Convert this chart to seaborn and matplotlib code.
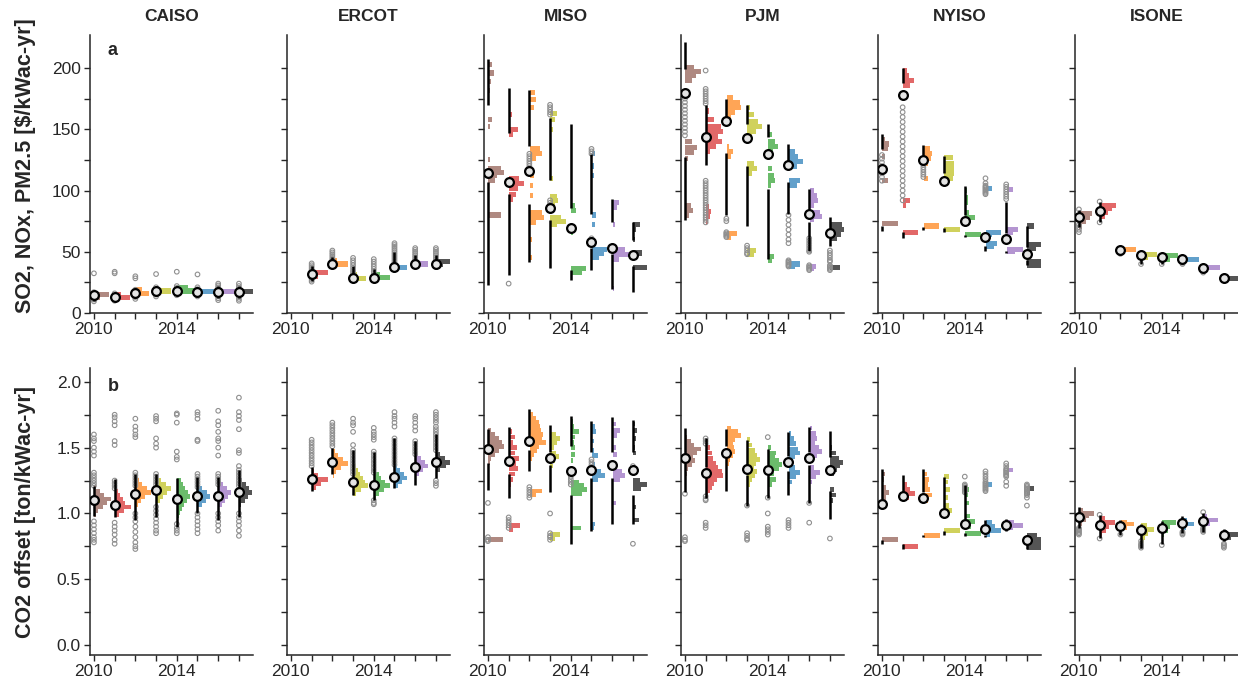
import matplotlib
matplotlib.use("Agg")
import matplotlib.pyplot as plt
import pandas as pd
import seaborn as sns

years = [2010, 2011, 2012, 2013, 2014, 2015, 2016, 2017]
regions = ["CAISO", "ERCOT", "MISO", "PJM", "NYISO", "ISONE"]
year_colors = ["#af8981", "#e26868", "#ffa556", "#d0d15c", "#6bbc6b", "#62a0cb", "#b495d1", "#555555"]

# ---- panel a: SO2, NOx, PM2.5 [$/kWac-yr] ----
# med, (lo, q1, q3, hi), gray points, histogram (value, width in years)
caiso_a_med = [14.7, 12.8, 16.0, 17.9, 18.2, 17.4, 17.4, 16.9]
caiso_a_box = [(10, 14, 15.5, 18), (10, 12, 13.5, 16), (12, 15, 17, 20), (14, 17, 19, 21),
               (15, 17, 19.5, 22), (14, 17, 18, 21), (12, 16, 18.5, 22), (12, 16, 18.5, 22)]
caiso_a_pts = [[32.4, 17, 15.5, 14, 12.5, 11, 9.5], [33.7, 32.4, 16, 14.5, 13, 11.5, 10],
               [30, 28.3, 19, 17.5, 16, 14.5, 13, 11.5], [31.8, 21, 19.5, 18, 16.5, 15, 13.5],
               [33.7, 22, 20.5, 19, 17.5, 16, 14.5], [31.5, 21, 19.5, 18, 16.5, 15, 13.5],
               [24, 22.5, 21, 19.5, 18, 16.5, 15, 13.5, 12, 10.5],
               [24, 22, 20.5, 19, 17.5, 16, 14.5, 13, 11.5, 10]]
caiso_a_hist = [[(15, .7), (12.5, .25)], [(12.5, .7), (15, .3)], [(16, .65), (19, .3)], [(18, .7)],
                [(18, .8), (21, .5)], [(17.5, .8)], [(17.5, .8)], [(17.5, .8)]]

ercot_a_med = [None, 32, 40, 28.6, 28.6, 37.8, 40, 40]
ercot_a_box = [None, (26, 31, 33, 38), (38, 39.5, 41, 46), (27, 28, 30, 38), (26, 28, 30, 36),
               (36, 37, 39, 50), (38, 39.5, 41, 47), (37, 39, 41, 47)]
ercot_a_pts = [[], [40.5, 39, 37.5, 36, 34.5, 33, 31.5, 30, 28.5, 27, 25.6],
               [51, 49.5, 48, 46.5, 45, 43.5, 42, 40.5], [45, 43, 41, 39, 37, 35, 33.5, 32, 31],
               [44, 42, 40, 38, 36, 34, 32, 30.5, 28],
               [57, 55.5, 54, 52.5, 51, 49.5, 48, 46.5, 45, 43.5, 42, 40.5, 39],
               [53, 51.5, 50, 48.5, 47, 45.5, 44, 42.5],
               [53, 51.5, 50, 48.5, 47, 45.5, 44, 42.5, 37.5]]
ercot_a_hist = [[], [(33, .75), (30, .3)], [(40, .75), (43, .2)], [(28.5, .6), (31, .15)],
                [(29, .75), (31.5, .3)], [(37.5, .6)], [(40, .6)], [(42, .8), (40, .3)]]

miso_a_med = [114.4, 106.6, 116, 86, 69, 57.7, 52.8, 47.4]
miso_a_box = [(23, 107, 170, 207), (31, 97, 147, 184), (42, 89, 136, 182), (37, 76, 109, 159),
              (27, 35, 86, 154), (35, 53, 81, 130), (20, 48, 74, 93), (17, 38, 60, 74)]
miso_a_pts = [[], [24], [130, 128, 126, 124, 122, 120, 118], [170, 168, 166, 164, 162, 92, 90, 88],
              [], [134, 132, 130, 61, 59, 57], [], []]
miso_a_hist = [[(203, .2), (196, .25), (189, .15), (182, .1), (158, .2), (152, .1), (125, .1), (118, .6),
                (115, .75), (112, .4), (108, .3), (80, .6), (60, .05), (40, .05)],
               [(162, .15), (150, .45), (146, .2), (110, .5), (106, .7), (102, .45), (97, .35), (93, .2)],
               [(180, .25), (174, .3), (168, .2), (134, .5), (130, .6), (126, .3), (112, .2), (104, .15),
                (96, .15), (82, .6), (78, .7), (74, .3), (60, .1), (45, .1)],
               [(163, .3), (158, .2), (150, .1), (110, .1), (95, .3), (92, .35), (88, .2), (78, .5),
                (75, .75), (72, .3)],
               [(148, .05), (100, .05), (88, .2), (84, .25), (70, .25), (66, .1), (36, .7), (33, .5)],
               [(130, .15), (120, .1), (112, .1), (80, .2), (72, .15), (60, .1), (52, .75), (49, .6), (45, .35)],
               [(90, .3), (86, .2), (72, .1), (52, .6), (48, .8), (44, .3), (20, .05)],
               [(72, .3), (68, .15), (60, .1), (49, .4), (37, .75)]]

pjm_a_med = [180, 144, 156.4, 143, 130, 120.8, 81, 65.6]
pjm_a_box = [(76, 127, 199, 221.5), (121, 144, 144, 170), (80, 131, 159, 175), (71, 120, 154, 170),
             (44, 101, 144, 154), (81, 107, 124, 138), (51, 74, 85, 101), (55, 61, 69, 78)]
pjm_a_pts = [[178, 175, 172, 169, 166, 163, 160, 157, 154, 151, 148, 145],
             [198, 183, 181, 179, 177, 175, 173, 171, 108, 106, 104, 102, 100, 98, 96, 94, 92, 90,
              88, 86, 84, 82, 80, 78, 76, 74],
             [77, 75, 66, 65, 64, 63, 62], [55, 53, 51, 49, 48], [],
             [80, 76, 72, 68, 64, 60, 57, 43, 42, 41, 40, 39, 38],
             [61, 59, 57, 55, 53, 51, 50, 39, 38, 37, 36, 35],
             [51, 49, 47, 45, 43, 42, 39, 38, 37, 36, 35]]
pjm_a_hist = [[(210, .05), (200, .4), (197, .75), (194, .5), (190, .3), (140, .3), (135, .55), (131, .4),
               (126, .15), (88, .25), (84, .35), (80, .2)],
              [(165, .15), (158, .4), (152, .7), (148, .8), (144, .6), (140, .75), (136, .5), (132, .2),
               (87, .15), (83, .25), (79, .2), (75, .1)],
              [(176, .3), (172, .65), (168, .7), (164, .4), (160, .2), (136, .1), (132, .3), (128, .2),
               (65, .5), (62, .2)],
              [(168, .1), (162, .3), (156, .5), (152, .7), (148, .4), (144, .2), (122, .3), (118, .45),
               (114, .2), (51, .4), (48, .3)],
              [(146, .2), (140, .35), (136, .45), (132, .25), (118, .2), (112, .3), (108, .35), (104, .15),
               (46, .3), (43, .2)],
              [(132, .3), (128, .45), (124, .7), (120, .4), (108, .55), (104, .4), (40, .55), (38, .3)],
              [(100, .2), (96, .35), (92, .4), (88, .2), (82, .5), (79, .6), (76, .2), (38, .3), (36, .2)],
              [(72, .55), (68, .7), (64, .5), (61, .3), (37, .45)]]

nyiso_a_med = [117.2, 178, 124.9, 108, 75.3, 62.3, 60.4, 48]
nyiso_a_box = [(67, 71, 134, 146), (61, 66, 188, 200), (68, 70, 129, 137), (66, 69, 114, 128),
               (62, 64, 80, 104), (51, 55, 62, 62), (49, 51, 65, 91), (39, 43, 54, 71)]
nyiso_a_pts = [[129, 126, 123, 120, 117, 114, 111, 108],
               [168, 164, 160, 156, 152, 148, 144, 140, 136, 132, 128, 124, 120, 116, 112, 108, 104,
                100, 96, 92],
               [121, 119, 117, 115, 113, 111], [], [],
               [110, 106, 104, 103, 102, 101, 100, 99, 98, 97],
               [105, 103, 101, 99, 97, 95, 93], []]
nyiso_a_hist = [[(142, .15), (138, .3), (134, .25), (128, .15), (108, .25), (73, .75)],
                [(198, .2), (194, .3), (190, .55), (186, .35), (92, .35), (88, .15), (66, .7)],
                [(134, .3), (130, .4), (126, .35), (122, .2), (110, .2), (71, .75)],
                [(127, .4), (122, .45), (118, .45), (114, .45), (110, .4), (68, .75)],
                [(100, .1), (94, .15), (90, .15), (82, .2), (78, .45), (64, .75)],
                [(102, .3), (66, .75), (64, .3), (57, .55), (54, .4)],
                [(101, .3), (68, .55), (66, .3), (52, .8), (50, .4)],
                [(71, .3), (56, .7), (53, .4), (42, .8), (39, .75)]]

isone_a_med = [78.1, 83.5, 51.4, 47.3, 46, 44, 37, 28.3]
isone_a_box = [(70, 76, 80, 84), (74, 80, 86, 91), (48.5, 50, 52, 53), (40, 44, 48, 49.6),
               (40, 44, 47, 49), (41, 43, 45, 46), (34, 36, 38, 39), (27, 28, 29, 30)]
isone_a_pts = [[84.6, 72, 70, 68, 66], [91, 74], [48.3], [40], [40], [42, 41, 40], [33], []]
isone_a_hist = [[(81, .6), (78, .5), (75, .3), (71, .15)], [(88, .75), (85, .6), (82, .4), (79, .25)],
                [(52, .75), (50, .2)], [(48, .75), (45, .3)], [(47, .75), (44, .4)], [(44, .8)],
                [(37, .8)], [(28, .8)]]

# ---- panel b: CO2 offset [ton/kWac-yr] ----
caiso_b_med = [1.10, 1.065, 1.15, 1.18, 1.11, 1.13, 1.13, 1.165]
caiso_b_box = [(0.98, 1.10, 1.10, 1.21), (0.97, 1.065, 1.065, 1.26), (0.95, 1.15, 1.15, 1.30),
               (0.97, 1.18, 1.18, 1.30), (0.90, 1.11, 1.11, 1.27), (1.0, 1.13, 1.13, 1.28),
               (0.95, 1.13, 1.13, 1.28), (0.97, 1.165, 1.165, 1.33)]
caiso_b_pts = [[1.60, 1.57, 1.55, 1.50, 1.47, 1.44, 1.31, 1.29, 1.27, 1.25, 1.23, 1.21, 0.94, 0.91, 0.88,
                0.85, 0.82, 0.80, 0.78],
               [1.75, 1.73, 1.70, 1.67, 1.55, 1.52, 1.25, 1.23, 1.21, 1.19, 0.93, 0.90, 0.87, 0.84, 0.80, 0.77],
               [1.72, 1.66, 1.63, 1.60, 1.58, 1.31, 1.29, 1.27, 1.25, 1.23, 1.21, 1.0, 0.97, 0.94, 0.9, 0.86,
                0.82, 0.78, 0.75, 0.73],
               [1.74, 1.72, 1.70, 1.57, 1.53, 1.50, 1.30, 1.28, 1.26, 1.24, 1.22, 1.05, 1.02, 0.99, 0.96,
                0.93, 0.90, 0.87, 0.85],
               [1.76, 1.75, 1.69, 1.47, 1.43, 1.41, 0.92, 0.89, 0.87, 0.85],
               [1.77, 1.75, 1.72, 1.56, 1.55, 1.30, 1.28, 1.26, 1.24, 1.22, 1.20, 1.0, 0.97, 0.94, 0.91,
                0.88, 0.85],
               [1.78, 1.70, 1.67, 1.62, 1.57, 1.55, 1.50, 1.44, 1.30, 1.28, 1.26, 1.24, 1.22, 1.0, 0.97,
                0.94, 0.91, 0.87],
               [1.88, 1.77, 1.74, 1.71, 1.64, 1.48, 1.46, 1.36, 1.33, 1.31, 1.29, 1.27, 1.25, 1.23, 1.21,
                1.0, 0.97, 0.94, 0.91, 0.87, 0.83]]
caiso_b_hist = [[(1.20, .1), (1.17, .25), (1.14, .45), (1.11, .8), (1.08, .6), (1.05, .4), (1.02, .2), (0.99, .1)],
                [(1.17, .15), (1.14, .25), (1.11, .4), (1.08, .5), (1.05, .75), (1.02, .45), (0.99, .2)],
                [(1.25, .15), (1.22, .3), (1.19, .55), (1.16, .75), (1.13, .45), (1.10, .25), (1.07, .1)],
                [(1.25, .2), (1.22, .45), (1.19, .7), (1.16, .5), (1.13, .3), (1.10, .15)],
                [(1.25, .2), (1.22, .3), (1.19, .4), (1.16, .5), (1.13, .6), (1.10, .45), (1.07, .35),
                 (1.04, .25), (1.01, .15), (0.98, .1)],
                [(1.19, .2), (1.16, .45), (1.13, .6), (1.10, .4), (1.07, .2)],
                [(1.22, .2), (1.19, .4), (1.16, .6), (1.13, .45), (1.10, .3), (1.07, .15)],
                [(1.25, .15), (1.22, .3), (1.19, .45), (1.16, .6), (1.13, .4), (1.10, .25), (1.07, .1)]]

ercot_b_med = [None, 1.26, 1.39, 1.24, 1.215, 1.28, 1.35, 1.39]
ercot_b_box = [None, (1.17, 1.26, 1.26, 1.35), (1.30, 1.39, 1.39, 1.50), (1.14, 1.24, 1.24, 1.48),
               (1.10, 1.215, 1.215, 1.47), (1.19, 1.28, 1.28, 1.57), (1.22, 1.35, 1.35, 1.55),
               (1.27, 1.39, 1.39, 1.60)]
ercot_b_pts = [[], [1.56, 1.54, 1.52, 1.50, 1.48, 1.46, 1.44, 1.42, 1.40, 1.38, 1.36],
               [1.69, 1.67, 1.65, 1.63, 1.61, 1.59, 1.57, 1.55, 1.53, 1.51],
               [1.72, 1.69, 1.67, 1.62, 1.52, 1.48, 1.46, 1.44, 1.42, 1.40, 1.38, 1.36, 1.34, 1.32, 1.30],
               [1.65, 1.62, 1.60, 1.58, 1.56, 1.47, 1.45, 1.43, 1.41, 1.39, 1.37, 1.35, 1.33, 1.31, 1.10,
                1.08, 1.07],
               [1.77, 1.74, 1.72, 1.69, 1.66, 1.57, 1.55, 1.53, 1.51, 1.49, 1.47, 1.45, 1.43, 1.41, 1.39, 1.37],
               [1.74, 1.72, 1.69, 1.66, 1.63, 1.55, 1.53, 1.51, 1.49, 1.47, 1.45],
               [1.77, 1.75, 1.73, 1.71, 1.69, 1.66, 1.64, 1.62, 1.60, 1.58, 1.56, 1.54, 1.52, 1.50, 1.48,
                1.25, 1.23, 1.21]]
ercot_b_hist = [[], [(1.32, .1), (1.29, .3), (1.26, .75), (1.23, .45), (1.20, .2)],
                [(1.47, .1), (1.44, .25), (1.41, .5), (1.38, .75), (1.35, .4), (1.32, .15), (1.29, .05)],
                [(1.36, .1), (1.33, .2), (1.30, .3), (1.27, .45), (1.24, .55), (1.21, .7), (1.18, .35), (1.15, .1)],
                [(1.33, .1), (1.30, .25), (1.27, .35), (1.24, .5), (1.21, .75), (1.18, .45), (1.15, .25), (1.12, .1)],
                [(1.36, .1), (1.33, .25), (1.30, .45), (1.27, .6), (1.24, .35), (1.21, .15)],
                [(1.45, .1), (1.42, .25), (1.39, .45), (1.36, .6), (1.33, .35), (1.30, .15)],
                [(1.48, .1), (1.45, .2), (1.42, .4), (1.39, .75), (1.36, .45), (1.33, .2), (1.30, .05)]]

miso_b_med = [1.486, 1.397, 1.55, 1.42, 1.32, 1.33, 1.37, 1.33]
miso_b_box = [(1.18, 1.38, 1.51, 1.64), (1.12, 1.30, 1.44, 1.66), (1.32, 1.48, 1.57, 1.79),
              (1.16, 1.37, 1.47, 1.67), (0.77, 1.14, 1.51, 1.74), (0.87, 1.27, 1.47, 1.70),
              (0.92, 1.27, 1.47, 1.73), (0.92, 1.14, 1.47, 1.71)]
miso_b_pts = [[1.08, 0.82, 0.80, 0.79], [0.97, 0.95, 0.93, 0.91, 0.89], [1.20, 1.18, 1.16, 1.14, 1.12],
              [1.0, 0.85, 0.83, 0.82, 0.80], [1.30, 1.28, 1.26, 1.24, 1.22], [1.41, 1.39, 1.37, 1.35],
              [], [1.36, 1.34, 1.32, 0.77]]
miso_b_hist = [[(1.63, .15), (1.60, .3), (1.57, .5), (1.54, .65), (1.51, .75), (1.48, .5), (1.45, .3),
                (1.42, .15), (1.39, .1), (0.80, .7)],
               [(1.62, .15), (1.58, .3), (1.54, .2), (1.50, .4), (1.46, .3), (1.42, .5), (1.38, .35),
                (1.34, .45), (1.30, .3), (1.26, .2), (1.22, .1), (0.91, .55), (0.88, .2)],
               [(1.75, .15), (1.72, .3), (1.69, .45), (1.66, .5), (1.63, .55), (1.60, .65), (1.57, .6),
                (1.54, .8), (1.51, .45), (1.48, .35), (1.45, .2), (1.42, .1), (1.17, .6), (1.14, .3)],
               [(1.60, .25), (1.57, .45), (1.54, .3), (1.50, .15), (1.46, .25), (1.43, .4), (1.40, .2),
                (1.36, .1), (0.84, .45), (0.81, .2)],
               [(1.70, .1), (1.66, .15), (1.62, .4), (1.58, .2), (1.54, .15), (1.50, .2), (1.45, .2),
                (1.40, .1), (1.24, .4), (1.21, .6), (1.18, .75), (1.15, .5), (0.89, .45)],
               [(1.66, .15), (1.62, .2), (1.55, .1), (1.48, .1), (1.44, .3), (1.37, .15), (1.32, .45),
                (1.29, .65), (1.26, .3), (0.92, .15), (0.89, .1)],
               [(1.68, .15), (1.63, .35), (1.59, .2), (1.50, .15), (1.45, .2), (1.36, .2), (1.32, .45),
                (1.29, .6), (1.26, .35), (1.08, .15)],
               [(1.68, .1), (1.63, .2), (1.57, .15), (1.50, .1), (1.46, .15), (1.25, .3), (1.22, .75),
                (1.19, .35), (1.05, .15), (0.95, .25)]]

pjm_b_med = [1.418, 1.31, 1.46, 1.34, 1.33, 1.39, 1.42, 1.33]
pjm_b_box = [(1.16, 1.38, 1.46, 1.65), (1.12, 1.27, 1.35, 1.57), (1.17, 1.42, 1.51, 1.64),
             (1.06, 1.29, 1.37, 1.56), (1.12, 1.29, 1.37, 1.49), (1.14, 1.32, 1.44, 1.62),
             (1.08, 1.37, 1.47, 1.66), (0.96, 1.17, 1.43, 1.63)]
pjm_b_pts = [[1.15, 0.82, 0.80, 0.79], [1.57, 1.55, 1.53, 1.13, 1.11, 1.10, 0.93, 0.91, 0.89], [],
             [1.06, 0.85, 0.83, 0.81, 0.80], [1.58, 1.12, 1.0, 0.90, 0.88, 0.86, 0.84],
             [0.95, 0.93, 0.91, 0.89], [1.08, 0.93], [0.81]]
pjm_b_hist = [[(1.58, .1), (1.55, .25), (1.52, .4), (1.49, .75), (1.46, .55), (1.43, .35), (1.40, .45),
               (1.37, .3), (1.34, .15), (1.30, .1), (1.26, .05)],
              [(1.54, .1), (1.50, .2), (1.46, .3), (1.42, .35), (1.38, .5), (1.35, .6), (1.32, .75),
               (1.29, .8), (1.26, .55), (1.23, .4), (1.20, .3), (1.17, .2), (1.14, .1)],
              [(1.65, .2), (1.62, .55), (1.59, .7), (1.56, .4), (1.53, .3), (1.50, .35), (1.47, .4),
               (1.44, .3), (1.41, .15), (1.38, .1)],
              [(1.56, .1), (1.52, .2), (1.48, .35), (1.44, .45), (1.41, .6), (1.38, .4), (1.35, .3),
               (1.32, .45), (1.29, .35), (1.26, .2), (1.22, .1)],
              [(1.50, .15), (1.46, .4), (1.43, .35), (1.40, .5), (1.37, .65), (1.34, .5), (1.30, .3),
               (1.26, .4), (1.22, .2)],
              [(1.61, .1), (1.57, .25), (1.53, .35), (1.49, .45), (1.46, .55), (1.43, .3), (1.39, .15),
               (1.35, .3), (1.31, .55), (1.28, .35), (1.24, .15)],
              [(1.65, .1), (1.61, .3), (1.57, .35), (1.53, .25), (1.50, .45), (1.47, .6), (1.44, .35),
               (1.40, .15), (1.35, .2), (1.31, .5), (1.28, .3), (1.24, .1)],
              [(1.56, .05), (1.50, .1), (1.46, .25), (1.42, .4), (1.39, .6), (1.36, .45), (1.33, .3),
               (1.30, .2), (1.18, .2), (1.14, .25), (1.10, .15), (1.05, .05)]]

nyiso_b_med = [1.07, 1.13, 1.12, 1.0, 0.92, 0.885, 0.91, 0.80]
nyiso_b_box = [(0.77, 0.80, 1.11, 1.34), (0.73, 0.77, 1.16, 1.29), (0.82, 0.84, 1.16, 1.34),
               (0.84, 0.87, 1.04, 1.28), (0.83, 0.85, 0.96, 1.22), (0.82, 0.84, 0.92, 0.95),
               (0.87, 0.89, 0.93, 0.96), (0.73, 0.77, 0.80, 0.80)]
nyiso_b_pts = [[], [], [], [], [1.28, 1.22, 1.21, 1.20, 1.19, 1.18, 1.17, 1.16],
               [1.32, 1.30, 1.28, 1.26, 1.24, 1.23, 1.22, 1.21, 1.20, 1.19, 1.18, 1.17],
               [1.38, 1.36, 1.34, 1.33, 1.32, 1.31, 1.30, 1.29, 1.28, 1.24, 1.21],
               [1.22, 1.21, 1.20, 1.19, 1.18, 1.17, 1.16, 1.15, 1.14, 1.12, 1.06]]
nyiso_b_hist = [[(1.30, .15), (1.26, .1), (1.20, .2), (1.16, .3), (1.12, .2), (1.08, .15), (0.80, .75)],
                [(1.22, .2), (1.18, .35), (1.15, .6), (1.12, .3), (0.75, .7)],
                [(1.30, .15), (1.26, .25), (1.22, .2), (1.18, .3), (1.14, .4), (1.10, .2), (0.83, .8)],
                [(1.28, .2), (1.24, .15), (1.18, .25), (1.12, .15), (1.06, .2), (1.02, .35), (0.98, .15),
                 (0.87, .75)],
                [(1.18, .2), (1.14, .15), (1.08, .2), (0.98, .25), (0.94, .45), (0.90, .3), (0.85, .75)],
                [(1.22, .3), (0.93, .3), (0.90, .45), (0.87, .75), (0.84, .2)],
                [(1.33, .3), (0.93, .35), (0.91, .8), (0.89, .3)],
                [(1.19, .3), (1.16, .15), (0.83, .45), (0.80, .7), (0.77, .8), (0.74, .7)]]

isone_b_med = [0.977, 0.91, 0.906, 0.874, 0.886, 0.93, 0.945, 0.84]
isone_b_box = [(0.89, 0.977, 0.977, 1.05), (0.81, 0.91, 0.91, 0.99), (0.84, 0.906, 0.906, 0.95),
               (0.74, 0.874, 0.874, 0.92), (0.77, 0.886, 0.886, 0.94), (0.85, 0.93, 0.93, 0.98),
               (0.86, 0.945, 0.945, 1.0), (0.79, 0.84, 0.84, 0.88)]
isone_b_pts = [[0.89, 0.88, 0.87, 0.86, 0.85, 0.84], [0.99, 0.81], [0.84], [0.79, 0.77, 0.76, 0.75, 0.74],
               [0.76], [0.86, 0.85, 0.84], [1.01, 0.89, 0.88, 0.87, 0.86], [0.77, 0.76, 0.75, 0.74]]
isone_b_hist = [[(1.02, .2), (1.0, .7), (0.98, .45), (0.95, .3), (0.92, .15)],
                [(0.96, .25), (0.93, .7), (0.90, .45), (0.87, .3), (0.84, .1)],
                [(0.93, .3), (0.92, .65), (0.89, .3)],
                [(0.91, .25), (0.88, .6), (0.85, .3), (0.82, .15), (0.79, .1)],
                [(0.93, .65), (0.90, .4), (0.87, .3), (0.84, .1)],
                [(0.95, .2), (0.92, .55), (0.89, .15)],
                [(0.98, .15), (0.95, .7), (0.92, .3)],
                [(0.86, .15), (0.84, .8), (0.82, .3)]]

row_a = [(caiso_a_med, caiso_a_box, caiso_a_pts, caiso_a_hist),
         (ercot_a_med, ercot_a_box, ercot_a_pts, ercot_a_hist),
         (miso_a_med, miso_a_box, miso_a_pts, miso_a_hist),
         (pjm_a_med, pjm_a_box, pjm_a_pts, pjm_a_hist),
         (nyiso_a_med, nyiso_a_box, nyiso_a_pts, nyiso_a_hist),
         (isone_a_med, isone_a_box, isone_a_pts, isone_a_hist)]
row_b = [(caiso_b_med, caiso_b_box, caiso_b_pts, caiso_b_hist),
         (ercot_b_med, ercot_b_box, ercot_b_pts, ercot_b_hist),
         (miso_b_med, miso_b_box, miso_b_pts, miso_b_hist),
         (pjm_b_med, pjm_b_box, pjm_b_pts, pjm_b_hist),
         (nyiso_b_med, nyiso_b_box, nyiso_b_pts, nyiso_b_hist),
         (isone_b_med, isone_b_box, isone_b_pts, isone_b_hist)]

sns.set_style("ticks")
plt.rcParams["font.family"] = ["Liberation Sans", "DejaVu Sans"]
plt.rcParams["axes.linewidth"] = 1.1

fig = plt.figure(figsize=(12.38, 6.83), dpi=100)
W, H = 1238.0, 683.0


def draw_panel(ax, med, box, pts, hist, binh):
    for i, yr in enumerate(years):
        if med[i] is None:
            continue
        col = year_colors[i]
        if hist[i]:
            vals = [h[0] for h in hist[i]]
            wid = [h[1] for h in hist[i]]
            ax.barh(vals, wid, left=yr + 0.02, height=binh, color=col, linewidth=0, zorder=1)
        if pts[i]:
            ax.scatter([yr] * len(pts[i]), pts[i], s=11, facecolors="none",
                       edgecolors="#8f8f8f", linewidths=0.8, zorder=2)
        lo, q1, q3, hi = box[i]
        ax.vlines([yr, yr], [lo, q3], [q1, hi], color="black", linewidth=1.8, zorder=3)
    df = pd.DataFrame({"year": [y for y, m in zip(years, med) if m is not None],
                       "value": [m for m in med if m is not None]})
    sns.scatterplot(data=df, x="year", y="value", ax=ax, s=40, color="#e4e4e4",
                    edgecolor="black", linewidth=1.6, zorder=4, legend=False)


for r, (row, top_px, bot_px) in enumerate([(row_a, 35, 313), (row_b, 368, 655)]):
    for c, (med, box, pts, hist) in enumerate(row):
        left_px = 90 + 197 * c
        ax = fig.add_axes([left_px / W, (H - bot_px) / H, 163 / W, (bot_px - top_px) / H])
        binh = 4.2 if r == 0 else 0.036
        draw_panel(ax, med, box, pts, hist, binh)
        ax.set_xlim(2009.81, 2017.68)
        ax.set_xticks(years)
        ax.set_xticklabels(["2010", "", "", "", "2014", "", "", ""])
        if r == 0:
            ax.set_ylim(0, 227)
            ax.set_yticks([0, 25, 50, 75, 100, 125, 150, 175, 200])
            labs = ["0", "", "50", "", "100", "", "150", "", "200"]
        else:
            ax.set_ylim(-0.075, 2.105)
            ax.set_yticks([0, 0.25, 0.5, 0.75, 1.0, 1.25, 1.5, 1.75, 2.0])
            labs = ["0.0", "", "0.5", "", "1.0", "", "1.5", "", "2.0"]
        ax.set_yticklabels(labs if c == 0 else [""] * 9)
        ax.tick_params(axis="both", direction="out", length=4.5, width=1.0, labelsize=12.5, pad=2)
        ax.set_xlabel("")
        ax.set_ylabel("")
        sns.despine(ax=ax)
        if r == 0:
            ax.set_title(regions[c], fontweight="bold", fontsize=12.5, pad=10)
        if c == 0:
            lab = "SO2, NOx, PM2.5 [$/kWac-yr]" if r == 0 else "CO2 offset [ton/kWac-yr]"
            ax.set_ylabel(lab, fontweight="bold", fontsize=15.5)
            ax.yaxis.set_label_coords(-0.33, 0.53 if r == 0 else 0.5)
            ax.text(0.11, 0.975 if r == 0 else 0.965, "a" if r == 0 else "b", transform=ax.transAxes,
                    fontweight="bold", fontsize=13, va="top", ha="left")

fig.savefig("out.png", dpi=100)
